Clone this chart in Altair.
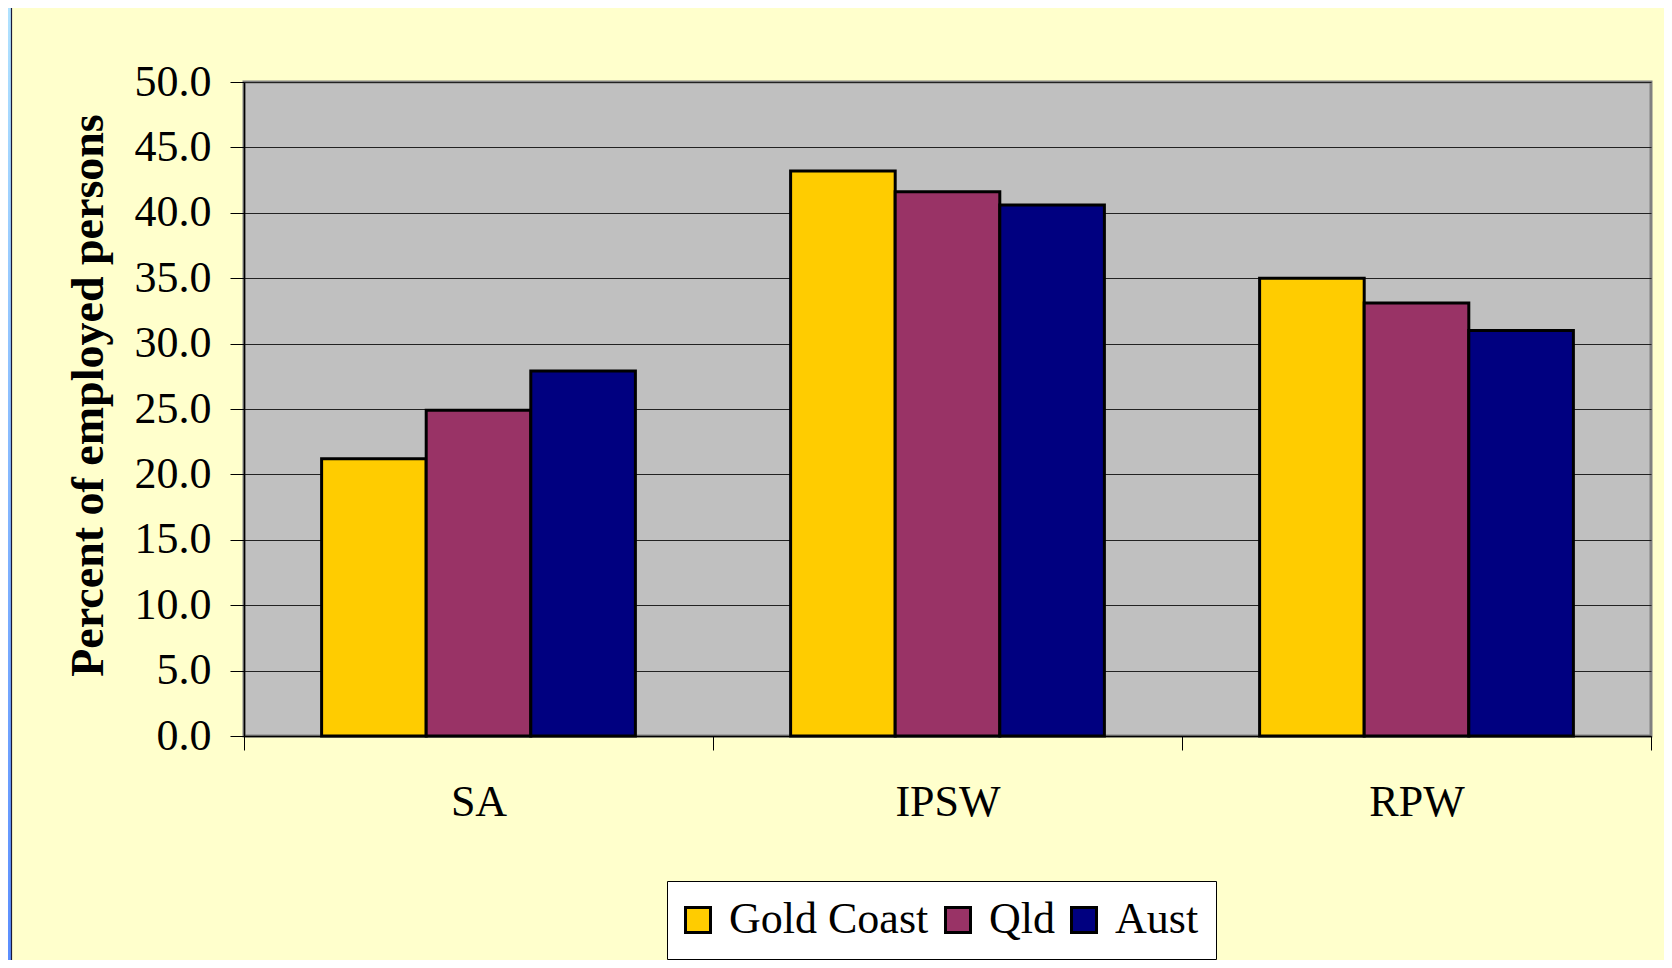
import altair as alt
import pandas as pd

regions = ["SA", "IPSW", "RPW"]
series = ["Gold Coast", "Qld", "Aust"]
gold_coast = [21.2, 43.2, 35.0]
qld = [24.9, 41.6, 33.1]
aust = [27.9, 40.6, 31.0]
y_ticks = [0, 5, 10, 15, 20, 25, 30, 35, 40, 45, 50]
colors = ["#FFCC00", "#993366", "#000080"]

rows = []
for name, vals in zip(series, [gold_coast, qld, aust]):
    for r, v in zip(regions, vals):
        rows.append({"region": r, "series": name, "value": v})
df = pd.DataFrame(rows)

FONT = "Liberation Serif"

bars = alt.Chart(df).mark_bar(stroke="black", strokeWidth=3).encode(
    x=alt.X(
        "region:N",
        sort=regions,
        scale=alt.Scale(paddingInner=0, paddingOuter=0),
        axis=alt.Axis(
            title=None, labelAngle=0, tickBand="extent", tickSize=14,
            tickColor="black", tickWidth=1, domainColor="black", domainWidth=1.5,
            labelFontSize=44, labelFont=FONT, labelColor="black", labelPadding=30,
            grid=False,
        ),
    ),
    xOffset=alt.XOffset(
        "series:N", sort=series,
        scale=alt.Scale(paddingInner=0, paddingOuter=0.742),
    ),
    y=alt.Y(
        "value:Q",
        scale=alt.Scale(domain=[0, 50], nice=False),
        axis=alt.Axis(
            values=y_ticks, format=".1f", title="Percent of employed persons",
            titleFont=FONT, titleFontSize=46, titleFontWeight="bold",
            titleColor="black", titleX=-142, titleY=313, titleAlign="center",
            titleBaseline="alphabetic",
            labelFont=FONT, labelFontSize=44, labelColor="black", labelPadding=19,
            tickSize=14, tickColor="black", tickWidth=1,
            domainColor="black", domainWidth=1.5,
            grid=True, gridColor="#222222", gridWidth=1,
        ),
    ),
    color=alt.Color(
        "series:N", sort=series,
        scale=alt.Scale(domain=series, range=colors),
        legend=alt.Legend(
            title=None, orient="none", legendX=423, legendY=799,
            direction="horizontal", symbolType="square", symbolSize=625,
            symbolStrokeColor="black", symbolStrokeWidth=3,
            labelFont=FONT, labelFontSize=44, labelColor="black",
            labelOffset=9, labelLimit=400, columnPadding=10, padding=17,
            symbolOffset=-8,
            fillColor="white", strokeColor="black",
        ),
    ),
)

strip_df = pd.DataFrame({"a": [0]})
strip = alt.Chart(strip_df).mark_rect(
    fill=alt.LinearGradient(
        gradient="linear", x1=0, x2=0, y1=0, y2=1,
        stops=[alt.GradientStop(color="#B0E2FF", offset=0),
               alt.GradientStop(color="#5B8EFF", offset=1)],
    )
).encode(
    x=alt.value(-236), x2=alt.value(-233), y=alt.value(-74), y2=alt.value(878)
)
edge = alt.Chart(strip_df).mark_rule(color="#1a1a3a", strokeWidth=1.2).encode(
    x=alt.value(-232.5), y=alt.value(-74), y2=alt.value(878)
)

chart = alt.layer(strip, edge, bars).properties(
    width=1407, height=654,
    autosize=alt.AutoSizeParams(type="none"),
    padding={"left": 236, "top": 74, "right": 13, "bottom": 224},
    background="#FFFFCC",
).configure_view(
    fill="#C0C0C0", stroke="#808080", strokeWidth=3
)

chart.save("out.html", embed_options={"renderer": "svg", "actions": False})
